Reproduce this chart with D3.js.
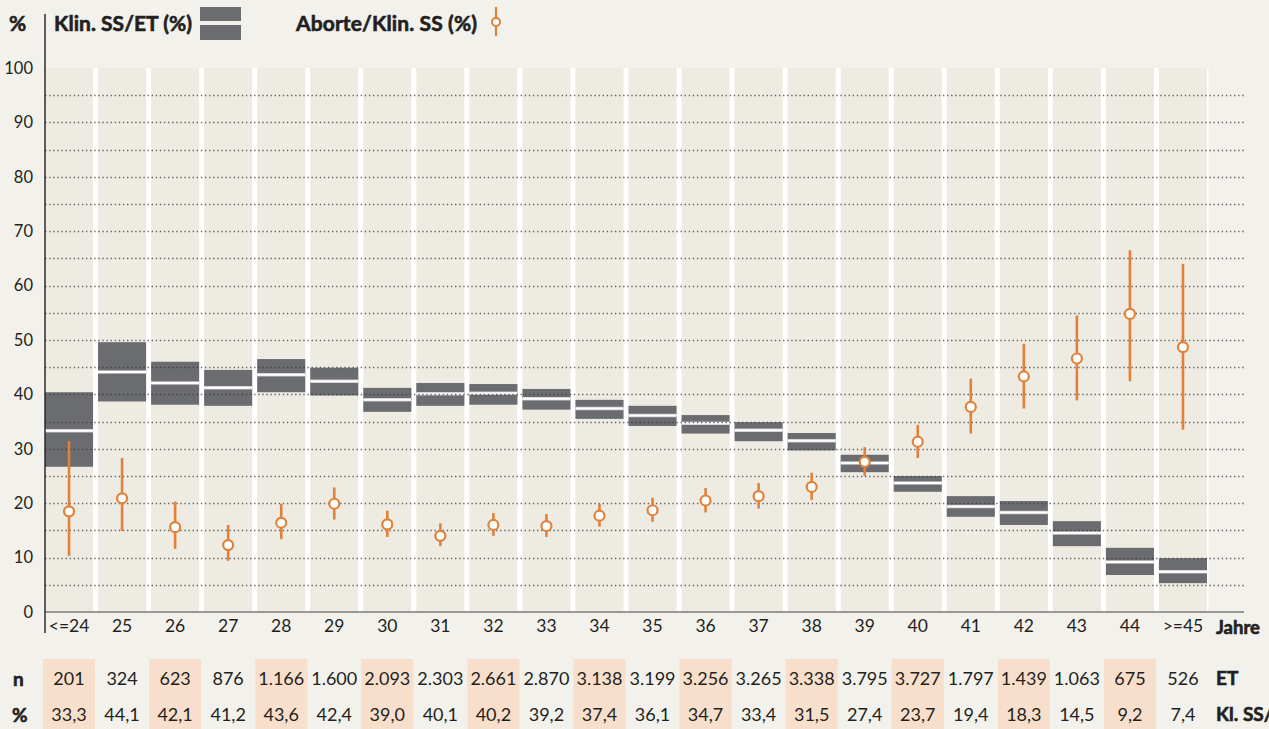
<!DOCTYPE html>
<html>
<head>
<meta charset="utf-8">
<script src="https://cdn.jsdelivr.net/npm/d3@7"></script>
<style>
  body { margin: 0; background: #f2f1ec; }
  svg { display: block; font-family: Lato, 'Open Sans', sans-serif; }
  .heavy { stroke: #231f20; stroke-width: 0.6px; paint-order: stroke; }
</style>
</head>
<body>
<div id="chart_container"></div>
<script>
/** --- DATA --- */

const ages = ['<=24', '25', '26', '27', '28', '29', '30', '31', '32', '33', '34',
  '35', '36', '37', '38', '39', '40', '41', '42', '43', '44', '>=45'];

const etCount = [201, 324, 623, 876, 1166, 1600, 2093, 2303, 2661, 2870, 3138,
  3199, 3256, 3265, 3338, 3795, 3727, 1797, 1439, 1063, 675, 526];

const klinSS = [33.3, 44.1, 42.1, 41.2, 43.6, 42.4, 39.0, 40.1, 40.2, 39.2, 37.4,
  36.1, 34.7, 33.4, 31.5, 27.4, 23.7, 19.4, 18.3, 14.5, 9.2, 7.4];
const klinLo = [26.7, 38.7, 38.1, 37.9, 40.4, 39.8, 36.8, 37.9, 38.1, 37.2, 35.5,
  34.2, 32.8, 31.4, 29.7, 25.7, 22.1, 17.5, 16.0, 12.1, 6.8, 5.3];
const klinHi = [40.4, 49.6, 46.0, 44.5, 46.5, 44.9, 41.2, 42.1, 41.9, 41.0, 39.0,
  37.9, 36.2, 34.9, 32.9, 28.9, 25.0, 21.3, 20.4, 16.7, 11.8, 9.9];

const abort = [18.5, 20.9, 15.6, 12.3, 16.4, 19.9, 16.1, 14.0, 16.0, 15.8, 17.7,
  18.7, 20.5, 21.3, 23.0, 27.6, 31.3, 37.7, 43.3, 46.6, 54.8, 48.7];
const abortLo = [10.3, 14.9, 11.6, 9.4, 13.4, 17.0, 13.8, 12.1, 14.0, 13.8, 15.7,
  16.6, 18.3, 19.0, 20.6, 25.0, 28.3, 32.8, 37.4, 38.9, 42.4, 33.5];
const abortHi = [31.4, 28.3, 20.3, 16.0, 19.9, 22.9, 18.6, 16.3, 18.2, 18.0, 19.9,
  21.0, 22.8, 23.7, 25.6, 30.3, 34.4, 42.9, 49.3, 54.5, 66.5, 64.0];

const yTicks = [0, 10, 20, 30, 40, 50, 60, 70, 80, 90, 100];
const gridTicks = d3.range(5, 100, 5);

/** --- DIMENSIONS + MISC --- */

const width = 1269;
const height = 729;
const left = 45;
const plotRight = 1245;

const barGray = '#6b6c70';
const orange = '#e2823a';
const peach = '#f8dfcc';
const ink = '#231f20';

const de = d3.formatLocale({ decimal: ',', thousands: '.', grouping: [3], currency: ['', ''] });
const fmtN = de.format(',d');
const fmtP = de.format('.1f');

const rows = ages.map((a, i) => ({
  age: a, i: i, n: etCount[i],
  ss: klinSS[i], ssLo: klinLo[i], ssHi: klinHi[i],
  ab: abort[i], abLo: abortLo[i], abHi: abortHi[i]
}));

/** --- SCALES --- */

const xScale = d3.scaleBand()
  .domain(ages)
  .range([left, 1207])
  .paddingInner(0.094)
  .paddingOuter(0)
  .align(0);

const yScale = d3.scaleLinear()
  .domain([0, 100])
  .range([612, 68]);

const cx = d => xScale(d.age) + xScale.bandwidth() / 2;

const svg = d3.select('#chart_container')
  .append('svg')
  .attr('width', width)
  .attr('height', height);

svg.append('rect')
  .attr('width', width).attr('height', height)
  .attr('fill', '#f2f1ec');

// white behind the panels -> separators
svg.append('rect')
  .attr('x', left)
  .attr('y', yScale(100))
  .attr('width', xScale.range()[1] - left + 1.5)
  .attr('height', yScale(0) - yScale(100))
  .attr('fill', '#fff');

// column panels
svg.append('g').selectAll('rect')
  .data(rows)
  .join('rect')
  .attr('x', d => xScale(d.age))
  .attr('y', yScale(100))
  .attr('width', xScale.bandwidth())
  .attr('height', yScale(0) - yScale(100))
  .attr('fill', '#eeebe3');

// clin. pregnancy bars
const bars = svg.append('g');
bars.selectAll('rect')
  .data(rows)
  .join('rect')
  .attr('x', d => xScale(d.age))
  .attr('y', d => yScale(d.ssHi))
  .attr('width', xScale.bandwidth())
  .attr('height', d => yScale(d.ssLo) - yScale(d.ssHi))
  .attr('fill', barGray);

bars.selectAll('line.halo')
  .data(rows)
  .join('line')
  .attr('class', 'halo')
  .attr('x1', d => xScale(d.age))
  .attr('x2', d => xScale(d.age) + xScale.bandwidth())
  .attr('y1', d => yScale(d.ss))
  .attr('y2', d => yScale(d.ss))
  .attr('stroke', '#c9c9c9')
  .attr('stroke-width', 3.5);

bars.selectAll('line.mid')
  .data(rows)
  .join('line')
  .attr('class', 'mid')
  .attr('x1', d => xScale(d.age))
  .attr('x2', d => xScale(d.age) + xScale.bandwidth())
  .attr('y1', d => yScale(d.ss))
  .attr('y2', d => yScale(d.ss))
  .attr('stroke', '#fff')
  .attr('stroke-width', 2);

// dotted grid
svg.append('g').selectAll('line')
  .data(gridTicks)
  .join('line')
  .attr('x1', left)
  .attr('x2', plotRight)
  .attr('y1', d => Math.round(yScale(d)) + 0.5)
  .attr('y2', d => Math.round(yScale(d)) + 0.5)
  .attr('stroke', '#3a3a3a')
  .attr('stroke-opacity', 0.75)
  .attr('stroke-width', 1.3)
  .attr('stroke-dasharray', '1.4,2.7');

// abort whiskers + circles
const ab = svg.append('g');
ab.selectAll('line')
  .data(rows)
  .join('line')
  .attr('x1', cx).attr('x2', cx)
  .attr('y1', d => yScale(d.abHi))
  .attr('y2', d => yScale(d.abLo))
  .attr('stroke', orange)
  .attr('stroke-width', 2.6);

ab.selectAll('circle')
  .data(rows)
  .join('circle')
  .attr('cx', cx)
  .attr('cy', d => yScale(d.ab))
  .attr('r', 5)
  .attr('fill', '#fff')
  .attr('stroke', orange)
  .attr('stroke-width', 2.2);

/** --- AXES --- */

const yAxis = d3.axisLeft(yScale)
  .tickValues(yTicks)
  .tickSize(0)
  .tickPadding(12);

svg.append('g')
  .attr('transform', `translate(${left},0)`)
  .call(yAxis)
  .call(g => g.select('.domain').remove())
  .selectAll('text')
  .attr('font-size', 16.5)
  .attr('fill', ink)
  .attr('font-family', 'Lato, sans-serif');

svg.append('line')
  .attr('x1', left).attr('x2', 1244)
  .attr('y1', yScale(0)).attr('y2', yScale(0))
  .attr('stroke', '#7a7a7a')
  .attr('stroke-width', 1.6);

svg.append('line')
  .attr('x1', left).attr('x2', left)
  .attr('y1', 14).attr('y2', 633)
  .attr('stroke', ink)
  .attr('stroke-width', 1.4);

const xAxis = d3.axisBottom(xScale)
  .tickSize(0)
  .tickPadding(8);

svg.append('g')
  .attr('transform', `translate(0,${yScale(0)})`)
  .call(xAxis)
  .call(g => g.select('.domain').remove())
  .selectAll('text')
  .attr('font-size', 17.5)
  .attr('fill', ink)
  .attr('font-family', 'Lato, sans-serif');

const rowLabel = (x, y, t) => svg.append('text')
  .attr('class', 'heavy')
  .attr('x', x).attr('y', y)
  .attr('font-size', 19).attr('font-weight', 'bold')
  .attr('fill', ink)
  .text(t);

rowLabel(1216, 634, 'Jahre').attr('font-size', 18.5);

/** --- TABLE --- */

const table = svg.append('g');
const boxW = xScale.step() - 1;

table.selectAll('rect')
  .data(rows.filter(d => d.i % 2 === 0))
  .join('rect')
  .attr('x', d => cx(d) - boxW / 2)
  .attr('y', 659)
  .attr('width', boxW)
  .attr('height', height - 659)
  .attr('fill', peach);

table.selectAll('text.n')
  .data(rows)
  .join('text')
  .attr('class', 'n')
  .attr('x', cx)
  .attr('y', 685)
  .attr('text-anchor', 'middle')
  .attr('font-size', 18)
  .attr('fill', ink)
  .text(d => fmtN(d.n));

table.selectAll('text.p')
  .data(rows)
  .join('text')
  .attr('class', 'p')
  .attr('x', cx)
  .attr('y', 721)
  .attr('text-anchor', 'middle')
  .attr('font-size', 18)
  .attr('fill', ink)
  .text(d => fmtP(d.ss));

rowLabel(13, 686, 'n');
rowLabel(12, 722, '%');
rowLabel(1216, 685, 'ET');
// the source table is cut at the right edge as well
rowLabel(1216, 721, 'Kl. SS/ET');

/** --- LEGEND --- */

rowLabel(9, 31, '%').attr('font-size', 21);

rowLabel(54, 31, 'Klin. SS/ET (%)')
  .attr('font-size', 21)
  .attr('textLength', 138);

svg.append('rect')
  .attr('x', 200).attr('y', 7).attr('width', 41).attr('height', 14)
  .attr('fill', barGray);
svg.append('rect')
  .attr('x', 200).attr('y', 25).attr('width', 41).attr('height', 15)
  .attr('fill', barGray);

rowLabel(296, 31, 'Aborte/Klin. SS (%)')
  .attr('font-size', 21)
  .attr('textLength', 181);

svg.append('line')
  .attr('x1', 496).attr('x2', 496)
  .attr('y1', 7).attr('y2', 36)
  .attr('stroke', orange).attr('stroke-width', 2.2);
svg.append('circle')
  .attr('cx', 496).attr('cy', 22).attr('r', 4)
  .attr('fill', '#fff').attr('stroke', orange).attr('stroke-width', 2);
</script>
</body>
</html>
